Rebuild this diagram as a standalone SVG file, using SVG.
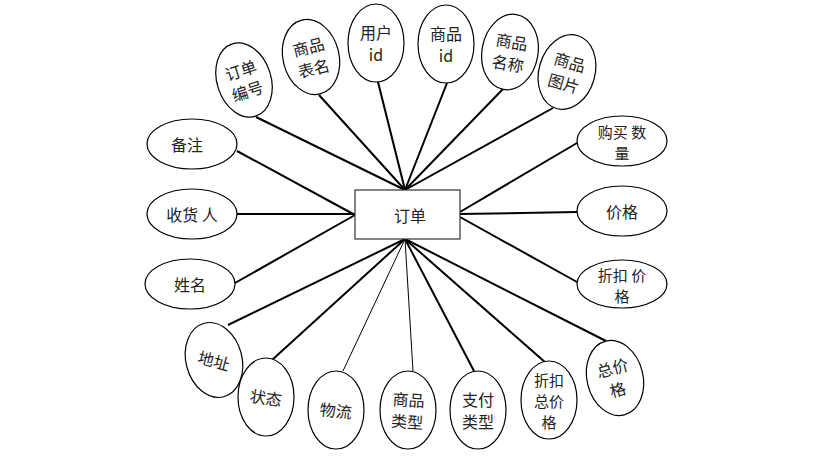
<svg xmlns="http://www.w3.org/2000/svg" width="825" height="458" viewBox="0 0 825 458">
<style>
.e{fill:#fff;stroke:#000;stroke-width:1.2}
.t{font-family:"Noto Sans CJK SC","Liberation Serif",serif;font-size:16px;fill:#222;text-anchor:middle;dominant-baseline:central}
.s{font-size:15px}
.c line{stroke:#000;stroke-width:2}
.c line.thin{stroke-width:1}
</style>
<rect width="825" height="458" fill="#fff"/>
<g class="c" id="connectors">
<line x1="256" y1="117" x2="405" y2="190"/>
<line x1="319" y1="95" x2="405" y2="190"/>
<line x1="378" y1="82" x2="405" y2="190"/>
<line x1="447" y1="83" x2="405" y2="190"/>
<line x1="503" y1="89" x2="405" y2="190"/>
<line x1="553" y1="108" x2="405" y2="190"/>
<line x1="577" y1="143" x2="460" y2="212"/>
<line x1="577" y1="212" x2="460" y2="214"/>
<line x1="577" y1="282" x2="460" y2="217"/>
<line x1="237" y1="151" x2="355" y2="215"/>
<line x1="237" y1="214" x2="355" y2="214"/>
<line x1="235" y1="283" x2="355" y2="215"/>
<line x1="228" y1="325" x2="405" y2="239"/>
<line x1="272" y1="360" x2="405" y2="239"/>
<line class="thin" x1="343" y1="371" x2="405" y2="239"/>
<line class="thin" x1="413" y1="371" x2="405" y2="239"/>
<line x1="474" y1="371" x2="405" y2="239"/>
<line x1="546" y1="363" x2="405" y2="239"/>
<line x1="606" y1="341" x2="405" y2="239"/>
</g>
<g id="order"><rect x="355" y="190" width="105" height="49" fill="#fff" stroke="#333" stroke-width="1.2"/><text class="t" x="410" y="215">订单</text></g>
<g id="n-ddbh" transform="translate(244,80) rotate(-18)"><ellipse class="e" rx="27" ry="38"/><text class="t" y="-11">订单</text><text class="t" y="11">编号</text></g>
<g id="n-spbm" transform="translate(311,57) rotate(-14)"><ellipse class="e" rx="28" ry="38"/><text class="t" y="-11">商品</text><text class="t" y="11">表名</text></g>
<g id="n-yhid" transform="translate(376,43)"><ellipse class="e" rx="28" ry="39"/><text class="t" y="-11">用户</text><text class="t" y="11" font-family="Liberation Mono,monospace">id</text></g>
<g id="n-spid" transform="translate(446,44)"><ellipse class="e" rx="28" ry="39"/><text class="t" y="-11">商品</text><text class="t" y="11" font-family="Liberation Mono,monospace">id</text></g>
<g id="n-spmc" transform="translate(510,52) rotate(10)"><ellipse class="e" rx="28" ry="38"/><text class="t" y="-11">商品</text><text class="t" y="11">名称</text></g>
<g id="n-sptp" transform="translate(567,72) rotate(16)"><ellipse class="e" rx="28" ry="38"/><text class="t" y="-11">商品</text><text class="t" y="11">图片</text></g>
<g id="n-gmsl" transform="translate(622,141)"><ellipse class="e" rx="45" ry="25"/><text class="t s" y="-10">购买 数</text><text class="t s" y="11">量</text></g>
<g id="n-jg" transform="translate(622,211)"><ellipse class="e" rx="45" ry="25"/><text class="t">价格</text></g>
<g id="n-zkjg" transform="translate(622,284)"><ellipse class="e" rx="45" ry="24"/><text class="t s" y="-10">折扣 价</text><text class="t s" y="11">格</text></g>
<g id="n-bz" transform="translate(192,144)"><ellipse class="e" rx="45" ry="25"/><text class="t" x="-5">备注</text></g>
<g id="n-shr" transform="translate(192,214)"><ellipse class="e" rx="45" ry="25"/><text class="t">收货 人</text></g>
<g id="n-xm" transform="translate(190,284)"><ellipse class="e" rx="45" ry="25"/><text class="t">姓名</text></g>
<g id="n-dz" transform="translate(214,360) rotate(-15)"><ellipse class="e" rx="28" ry="38"/><text class="t" transform="rotate(30)">地址</text></g>
<g id="n-zt" transform="translate(266,397)"><ellipse class="e" rx="28" ry="39"/><text class="t" transform="rotate(8)">状态</text></g>
<g id="n-wl" transform="translate(336,410)"><ellipse class="e" rx="28" ry="39"/><text class="t" transform="rotate(6)">物流</text></g>
<g id="n-splx" transform="translate(408,410)"><ellipse class="e" rx="28" ry="39"/><text class="t" y="-11" transform="rotate(4)">商品</text><text class="t" y="11" transform="rotate(4)">类型</text></g>
<g id="n-zflx" transform="translate(478,410)"><ellipse class="e" rx="28" ry="39"/><text class="t" y="-11">支付</text><text class="t" y="11">类型</text></g>
<g id="n-zkzjg" transform="translate(549,400)"><ellipse class="e" rx="28" ry="39"/><text class="t s" y="-21">折扣</text><text class="t s" y="0">总价</text><text class="t s" y="21">格</text></g>
<g id="n-zjg" transform="translate(615,378) rotate(-14)"><ellipse class="e" rx="28" ry="38"/><text class="t" y="-11">总价</text><text class="t" y="11">格</text></g>
</svg>
